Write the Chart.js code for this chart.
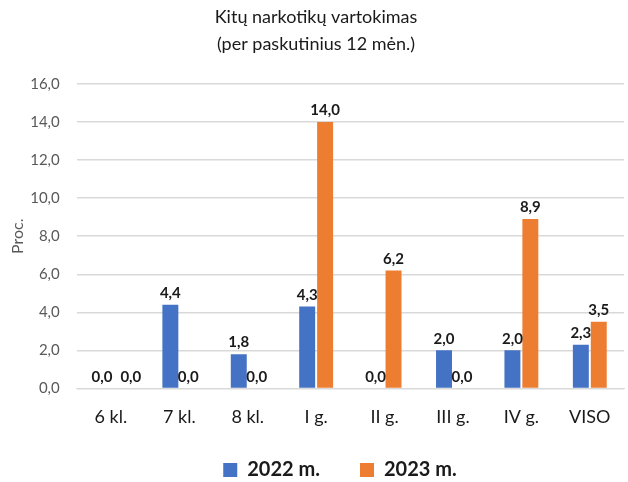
<!DOCTYPE html>
<html>
<head>
<meta charset="utf-8">
<script src="https://cdn.jsdelivr.net/npm/chart.js@4/dist/chart.umd.min.js"></script>
<style>
  html, body { margin: 0; padding: 0; background: #fff; }
  #wrap { width: 628px; height: 482px; }
</style>
</head>
<body>
<div id="wrap"><canvas id="chart"></canvas></div>
<script>
const categories = ['6 kl.', '7 kl.', '8 kl.', 'I g.', 'II g.', 'III g.', 'IV g.', 'VISO'];
const values2022 = [0.0, 4.4, 1.8, 4.3, 0.0, 2.0, 2.0, 2.3];
const values2023 = [0.0, 0.0, 0.0, 14.0, 6.2, 0.0, 8.9, 3.5];
const yTicks = [0, 2, 4, 6, 8, 10, 12, 14, 16];

const legendGap = 40;     // space between legend items
const legendShrink = 21;  // height taken off the legend box
const legendLift = 18;    // legend drawn this much higher than laid out
const legendShift = 24;   // and this much to the right

function fmt(v) {
    return v.toFixed(1).replace('.', ',');
}

// labels above each bar, the second one is pushed right if they collide
const barLabels = {
    id: 'barLabels',
    afterDatasetsDraw(chart) {
        const ctx = chart.ctx;
        ctx.save();
        ctx.font = 'bold 15px Lato';
        ctx.fillStyle = '#1a1a1a';
        ctx.textAlign = 'center';
        ctx.textBaseline = 'bottom';
        const m0 = chart.getDatasetMeta(0).data;
        const m1 = chart.getDatasetMeta(1).data;
        categories.forEach(function(c, j) {
            const t0 = fmt(values2022[j]);
            const t1 = fmt(values2023[j]);
            const w0 = ctx.measureText(t0).width;
            const w1 = ctx.measureText(t1).width;
            const x0 = m0[j].x, y0 = m0[j].y - 4;
            let x1 = m1[j].x;
            const y1 = m1[j].y - 4;
            if (Math.abs(y0 - y1) < 16) {
                const minX = x0 + w0 / 2 + 8 + w1 / 2;
                if (x1 < minX) x1 = minX;
            }
            ctx.fillText(t0, x0, y0);
            ctx.fillText(t1, x1, y1);
        });
        ctx.restore();
    }
};

// wide gap between legend items without the legend taking more height
const legendSpacing = {
    id: 'legendSpacing',
    beforeLayout(chart) {
        const lg = chart.legend;
        if (lg && !lg._patched) {
            const fit = lg.fit;
            lg.fit = function() {
                fit.call(this);
                this.height -= legendShrink;
            };
            lg._patched = true;
        }
    },
    afterLayout(chart) {
        const lg = chart.legend;
        if (!lg) return;
        lg.top -= legendLift;
        lg.left += legendShift;
        lg.right += legendShift;
    }
};

const ctx = document.getElementById('chart').getContext('2d');
new Chart(ctx, {
    type: 'bar',
    data: {
        labels: categories,
        datasets: [{
            label: '2022 m.',
            data: values2022,
            backgroundColor: '#4472C4'
        }, {
            label: '2023 m.',
            data: values2023,
            backgroundColor: '#ED7D31'
        }]
    },
    options: {
        responsive: true,
        maintainAspectRatio: false,
        animation: false,
        layout: { padding: { left: 8, right: 4, top: 0, bottom: -5 } },
        datasets: {
            bar: { categoryPercentage: 0.524, barPercentage: 0.89 }
        },
        plugins: {
            title: {
                display: true,
                text: ['Kitų narkotikų vartokimas', '(per paskutinius 12 mėn.)'],
                color: '#1a1a1a',
                font: { family: 'Lato', size: 18, weight: 'normal', lineHeight: 1.5 },
                padding: { top: 4, bottom: 26 }
            },
            legend: {
                position: 'bottom',
                labels: {
                    color: '#1a1a1a',
                    font: { family: 'Lato', size: 20, weight: 'bold' },
                    boxWidth: 14,
                    boxHeight: 14,
                    padding: legendGap
                }
            },
            tooltip: { enabled: false }
        },
        scales: {
            x: {
                grid: { display: false },
                border: { color: '#d9d9d9' },
                ticks: {
                    color: '#1a1a1a',
                    font: { family: 'Lato', size: 18 },
                    padding: 10
                }
            },
            y: {
                min: 0,
                max: 16,
                afterBuildTicks(axis) {
                    axis.ticks = yTicks.map(function(v) { return { value: v }; });
                },
                grid: { color: '#d9d9d9', lineWidth: 1.5, drawTicks: false },
                border: { display: false },
                ticks: {
                    color: '#595959',
                    font: { family: 'Lato', size: 15 },
                    padding: 17,
                    callback: function(v) { return fmt(v); }
                },
                title: {
                    display: true,
                    text: 'Proc.',
                    color: '#595959',
                    font: { family: 'Lato', size: 16 },
                    padding: { top: 0, bottom: -14 }
                }
            }
        }
    },
    plugins: [barLabels, legendSpacing]
});
</script>
</body>
</html>
